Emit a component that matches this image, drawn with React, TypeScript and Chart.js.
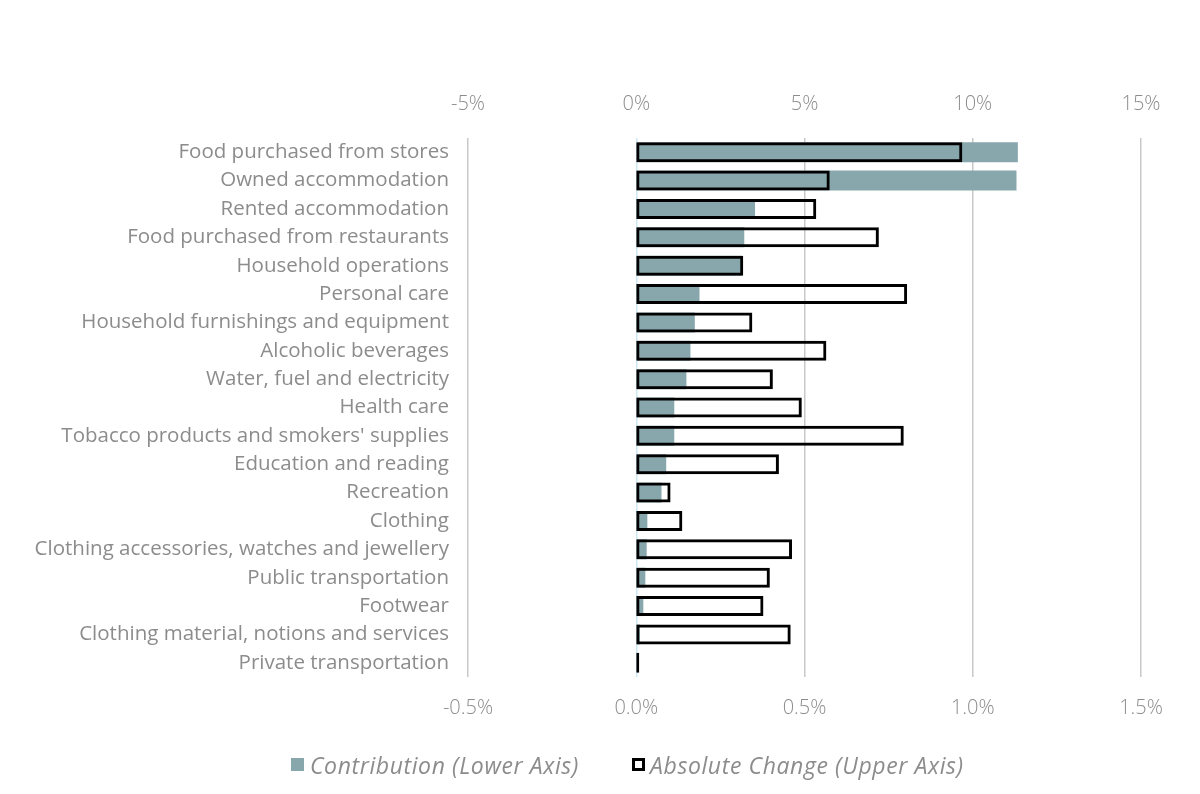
import React, { useEffect, useRef } from "react";
import { Chart, registerables } from "chart.js";

Chart.register(...registerables);

const categories = [
  "Food purchased from stores",
  "Owned accommodation",
  "Rented accommodation",
  "Food purchased from restaurants",
  "Household operations",
  "Personal care",
  "Household furnishings and equipment",
  "Alcoholic beverages",
  "Water, fuel and electricity",
  "Health care",
  "Tobacco products and smokers' supplies",
  "Education and reading",
  "Recreation",
  "Clothing",
  "Clothing accessories, watches and jewellery",
  "Public transportation",
  "Footwear",
  "Clothing material, notions and services",
  "Private transportation",
];

// Contribution, percentage points (lower axis)
const contribution = [
  1.134, 1.13, 0.353, 0.321, 0.314, 0.188, 0.174, 0.161, 0.149, 0.113, 0.113,
  0.089, 0.075, 0.033, 0.031, 0.027, 0.021, 0.011, 0.002,
];

// Absolute change, percent (upper axis)
const absoluteChange = [
  9.69, 5.75, 5.35, 7.21, 3.18, 8.05, 3.45, 5.65, 4.06, 4.92, 7.95, 4.24, 1.02,
  1.37, 4.63, 3.97, 3.78, 4.59, 0.09,
];

const lowerAxis = { min: -0.5, max: 1.5, step: 0.5 };
const upperAxis = { min: -5, max: 15, step: 5 };

const seriesNames = ["Contribution (Lower Axis)", "Absolute Change (Upper Axis)"];

const FONT = "'Open Sans', 'Noto Sans', sans-serif";
const GRAY = "#8c8c8c";
const TEAL = "#87a7ad";

export default function App() {
  const ref = useRef<HTMLCanvasElement>(null);

  useEffect(() => {
    if (!ref.current) return;
    const chart = new Chart(ref.current, {
      type: "bar",
      data: {
        labels: categories,
        datasets: [
          {
            label: seriesNames[0],
            data: contribution,
            xAxisID: "x",
            backgroundColor: TEAL,
            borderWidth: 0,
            order: 1,
            grouped: false,
            categoryPercentage: 1,
            barPercentage: 0.705,
          } as any,
          {
            label: seriesNames[1],
            data: absoluteChange,
            xAxisID: "x2",
            backgroundColor: "rgba(255,255,255,0)",
            borderColor: "#000000",
            borderWidth: 3,
            borderSkipped: false,
            order: 0,
            grouped: false,
            categoryPercentage: 1,
            barPercentage: 0.705,
          } as any,
        ],
      },
      options: {
        indexAxis: "y",
        responsive: false,
        animation: false,
        layout: { padding: { left: 0, right: 59, top: 0, bottom: 57 } },
        plugins: {
          tooltip: { enabled: false },
          legend: { display: false },
        },
        scales: {
          y: {
            grid: { display: false, drawTicks: false },
            border: { display: false },
            ticks: {
              color: GRAY,
              padding: 19,
              font: { family: FONT, size: 20.5 },
            },
            afterFit: (s: any) => {
              s.width = 468;
            },
          },
          x: {
            type: "linear",
            position: "bottom",
            min: lowerAxis.min,
            max: lowerAxis.max,
            border: { display: false },
            grid: {
              drawTicks: false,
              lineWidth: 1.5,
              color: (ctx: any) =>
                ctx.tick && ctx.tick.value === 0 ? "#cde7f1" : "#c8c8c8",
            },
            ticks: {
              stepSize: lowerAxis.step,
              padding: 19,
              color: GRAY,
              font: { family: FONT, size: 20, weight: "300" },
              callback: (v: any) => Number(v).toFixed(1) + "%",
            },
            afterFit: (s: any) => {
              s.height = 60;
            },
          },
          x2: {
            type: "linear",
            position: "top",
            min: upperAxis.min,
            max: upperAxis.max,
            border: { display: false },
            grid: { display: false, drawTicks: false },
            ticks: {
              stepSize: upperAxis.step,
              padding: 22,
              color: GRAY,
              font: { family: FONT, size: 20, weight: "300" },
              callback: (v: any) => Number(v).toFixed(0) + "%",
            },
            afterFit: (s: any) => {
              s.height = 138;
            },
          },
        },
      } as any,
    });
    return () => chart.destroy();
  }, []);

  const legendText: React.CSSProperties = {
    position: "absolute",
    top: 749,
    fontFamily: FONT,
    fontStyle: "italic",
    fontSize: 23,
    letterSpacing: "0.6px",
    color: GRAY,
    lineHeight: "32px",
    whiteSpace: "nowrap",
  };

  return (
    <div style={{ position: "fixed", left: 0, top: 0, width: 1200, height: 794, background: "#fff" }}>
      <canvas ref={ref} width={1200} height={794} style={{ display: "block" }} />
      <div style={{ position: "absolute", left: 291, top: 758, width: 13, height: 13, background: TEAL }} />
      <div style={{ ...legendText, left: 310 }}>{seriesNames[0]}</div>
      <div
        style={{
          position: "absolute",
          left: 632,
          top: 758,
          width: 13,
          height: 13,
          boxSizing: "border-box",
          border: "3px solid #000",
          background: "#fff",
        }}
      />
      <div style={{ ...legendText, left: 650 }}>{seriesNames[1]}</div>
    </div>
  );
}
